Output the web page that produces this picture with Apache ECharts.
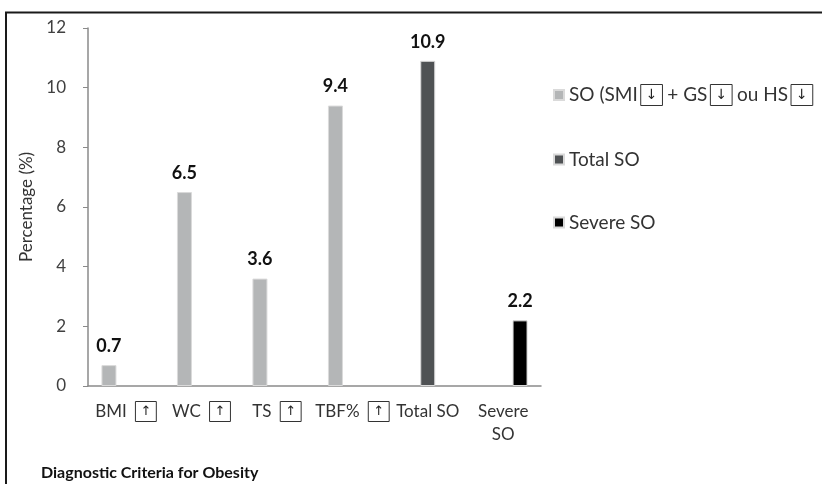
<!DOCTYPE html>
<html>
<head>
<meta charset="utf-8">
<script src="https://cdn.jsdelivr.net/npm/echarts@6/dist/echarts.min.js"></script>
<style>
  html, body { margin: 0; padding: 0; background: #fff; }
  #chart { width: 822px; height: 484px; }
</style>
</head>
<body>
<div id="chart"></div>
<script>
// Prevalence of sarcopenic obesity by diagnostic criterion
const categories = ['BMI', 'WC', 'TS', 'TBF%', 'Total SO', 'Severe\nSO'];
const arrowCategories = ['BMI', 'WC', 'TS', 'TBF%'];
const seriesNames = ['SO (SMI↓ + GS↓ ou HS↓', 'Total SO', 'Severe SO'];
const soValues = [0.7, 6.5, 3.6, 9.4, null, null];
const totalSoValues = [null, null, null, null, 10.9, null];
const severeSoValues = [null, null, null, null, null, 2.2];
const yTicks = { min: 0, max: 12, step: 2 };

const FONT = 'Lato, "DejaVu Sans", sans-serif';
// boxed arrow glyph used in axis labels and legend
function boxStyle(size) {
  return {
    fontFamily: '"DejaVu Sans", sans-serif',
    fontSize: size,
    color: '#222',
    borderColor: '#333',
    borderWidth: 1,
    padding: [4, 5, 3, 5]
  };
}

const chart = echarts.init(document.getElementById('chart'), null, { renderer: 'canvas' });

const barLabel = {
  show: true,
  position: 'top',
  distance: 10,
  fontFamily: FONT,
  fontWeight: 'bold',
  fontSize: 18,
  color: '#111'
};

function makeBar(name, values, color) {
  return {
    name: name,
    type: 'bar',
    data: values,
    barWidth: 15,
    barGap: '12%',
    itemStyle: { color: color, borderColor: '#dadada', borderWidth: 1 },
    label: barLabel
  };
}

chart.setOption({
  animation: false,
  backgroundColor: '#fff',
  grid: { left: 88, right: 281, top: 28, bottom: 98 },
  title: {
    text: 'Diagnostic Criteria for Obesity',
    left: 36,
    top: 460,
    textStyle: { fontFamily: FONT, fontWeight: 'bold', fontSize: 16, color: '#111' }
  },
  legend: {
    orient: 'vertical',
    left: 548,
    top: 79,
    itemWidth: 10,
    itemHeight: 10,
    itemGap: 44,
    icon: 'rect',
    data: seriesNames,
    formatter: function (name) {
      if (name === seriesNames[0]) {
        return 'SO (SMI{s|}{b|↓} + GS{s|}{b|↓} ou HS{s|}{b|↓}';
      }
      return name;
    },
    textStyle: {
      fontFamily: FONT,
      fontSize: 19,
      color: '#333',
      rich: { b: boxStyle(14), s: { width: 3 } }
    }
  },
  xAxis: {
    type: 'category',
    data: categories,
    axisLine: { lineStyle: { color: '#8a8a8a', width: 1.5 } },
    axisTick: { show: false },
    axisLabel: {
      interval: 0,
      margin: 14,
      fontFamily: FONT,
      fontSize: 17,
      color: '#333',
      lineHeight: 23,
      align: 'center',
      formatter: function (v) {
        if (arrowCategories.indexOf(v) >= 0) {
          return v + '  {b|↑}';
        }
        return v;
      },
      rich: { b: boxStyle(13) }
    }
  },
  yAxis: {
    type: 'value',
    min: yTicks.min,
    max: yTicks.max,
    interval: yTicks.step,
    name: 'Percentage (%)',
    nameLocation: 'middle',
    nameGap: 50,
    nameRotate: 90,
    nameTextStyle: { fontFamily: FONT, fontSize: 17, color: '#333' },
    axisLine: { show: true, lineStyle: { color: '#8a8a8a', width: 1.5 } },
    axisTick: { show: true, length: 5, lineStyle: { color: '#8a8a8a' } },
    splitLine: { show: false },
    axisLabel: { margin: 22, fontFamily: FONT, fontSize: 17, color: '#404040' }
  },
  series: [
    makeBar(seriesNames[0], soValues, '#b4b6b7'),
    makeBar(seriesNames[1], totalSoValues, '#4f5254'),
    makeBar(seriesNames[2], severeSoValues, '#000000')
  ],
  graphic: [{
    type: 'rect',
    silent: true,
    z: 100,
    shape: { x: 6, y: 12.5, width: 1200, height: 1000 },
    style: { fill: 'none', stroke: '#1a1a1a', lineWidth: 2 }
  }]
});
</script>
</body>
</html>
